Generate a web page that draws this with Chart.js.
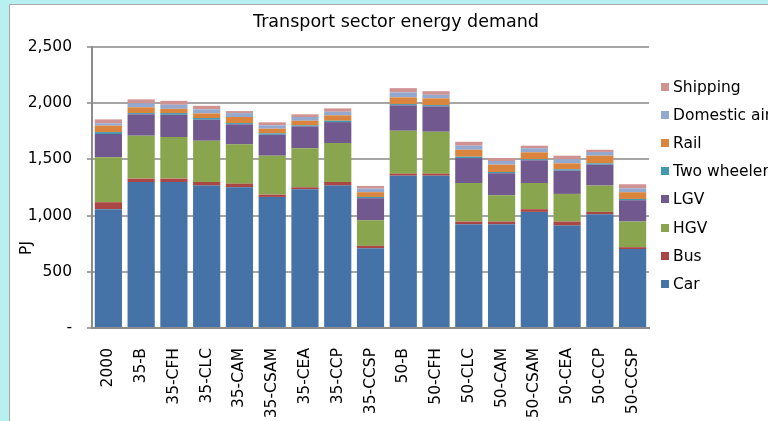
<!DOCTYPE html>
<html><head><meta charset="utf-8">
<script src="https://cdn.jsdelivr.net/npm/chart.js@4"></script>
<style>
html,body{margin:0;padding:0;width:768px;height:421px;overflow:hidden;background:#b8f0f2;}
#panel{position:absolute;left:9px;top:4px;width:820px;height:460px;background:#fff;border:1px solid #a9a9a9;}
#wrap{position:absolute;left:0;top:0;width:792px;height:421px;}
#legend{position:absolute;left:661px;top:73px;font:15.5px "DejaVu Sans";color:#000;}
.item{height:28.1px;display:flex;align-items:center;white-space:nowrap}
.sw{width:8px;height:8px;margin-right:4px;flex:none}
</style></head>
<body>
<div id="panel"></div>
<div id="wrap"><canvas id="c" width="792" height="421" style="width:792px;height:421px"></canvas></div>
<div id="legend"></div>
<script>
const chartTitle = 'Transport sector energy demand';
const yAxisTitle = 'PJ';
const categories = ['2000','35-B','35-CFH','35-CLC','35-CAM','35-CSAM','35-CEA','35-CCP','35-CCSP','50-B','50-CFH','50-CLC','50-CAM','50-CSAM','50-CEA','50-CCP','50-CCSP'];
const yTickLabels = ['-','500','1,000','1,500','2,000','2,500'];
const seriesNames = ['Car','Bus','HGV','LGV','Two wheeler','Rail','Domestic air','Shipping'];
const seriesColors = ['#4572A7','#AA4643','#89A54E','#71588F','#4198AF','#DB843D','#93A9CF','#D19392'];
const car         = [1057,1299,1299,1267,1252,1166,1234,1267,710,1355,1355,924,924,1033,911,1012,702];
const bus         = [62,30,30,32,32,21,18,32,21,18,18,23,23,24,36,21,17];
const hgv         = [400,382,370,367,350,346,347,347,228,382,373,343,234,233,246,234,228];
const lgv         = [207,190,198,187,178,186,195,186,196,226,226,222,196,202,207,186,190];
const twoWheeler  = [17,11,15,15,11,13,9,12,11,11,11,12,11,9,12,12,11];
const rail        = [57,51,38,41,54,41,41,48,42,60,60,62,65,62,53,68,60];
const domesticAir = [21,35,36,36,35,30,33,32,32,44,32,36,33,36,36,33,35];
const shipping    = [35,36,35,32,18,27,24,30,24,38,32,35,26,23,32,20,36];
const seriesValues = [car,bus,hgv,lgv,twoWheeler,rail,domesticAir,shipping];

const font = {family:'DejaVu Sans', size:15.5};
const datasets = seriesNames.map((n,i)=>({label:n,data:seriesValues[i],backgroundColor:seriesColors[i],borderWidth:0,categoryPercentage:1,barPercentage:0.83}));

const yTitlePlugin = {
  id:'ytitle',
  afterDraw(chart){
    const ctx = chart.ctx;
    ctx.save();
    ctx.translate(27,248);
    ctx.rotate(-Math.PI/2);
    ctx.font = '15.5px "DejaVu Sans"';
    ctx.fillStyle = '#000';
    ctx.textAlign = 'center';
    ctx.textBaseline = 'middle';
    ctx.fillText(yAxisTitle,0,0);
    ctx.restore();
  }
};

new Chart(document.getElementById('c'),{
  type:'bar',
  data:{labels:categories,datasets},
  plugins:[yTitlePlugin],
  options:{
    responsive:false, animation:false,
    layout:{padding:0},
    plugins:{
      legend:{display:false},
      tooltip:{enabled:false},
      title:{display:true,text:chartTitle,color:'#000',font:{family:'DejaVu Sans',size:17.5,weight:'normal',lineHeight:1.2},padding:{top:11.5,bottom:14.5}}
    },
    scales:{
      x:{stacked:true,grid:{display:false},border:{display:true,color:'#8c8c8c',width:2},
         ticks:{font,color:'#000',minRotation:90,maxRotation:90,padding:12,autoSkip:false},
         afterFit(s){s.height=93;}},
      y:{stacked:true,min:0,max:2500,
         ticks:{stepSize:500,padding:15,font,color:'#000',callback:(v)=>yTickLabels[Math.round(v/500)]},
         grid:{color:'#a6a6a6',lineWidth:2,tickLength:5},
         border:{color:'#8c8c8c',width:2},
         afterFit(s){s.width=92;}},
      legendSpace:{type:'linear',position:'right',display:true,
         grid:{display:false},border:{display:false},ticks:{display:false},
         afterFit(s){s.width=143;}}
    }
  }
});

const lg = document.getElementById('legend');
for (let i = seriesNames.length-1; i>=0; i--) {
  const d = document.createElement('div'); d.className='item';
  const s = document.createElement('span'); s.className='sw'; s.style.background=seriesColors[i];
  const t = document.createElement('span'); t.textContent = seriesNames[i];
  d.appendChild(s); d.appendChild(t); lg.appendChild(d);
}
</script>
</body></html>
